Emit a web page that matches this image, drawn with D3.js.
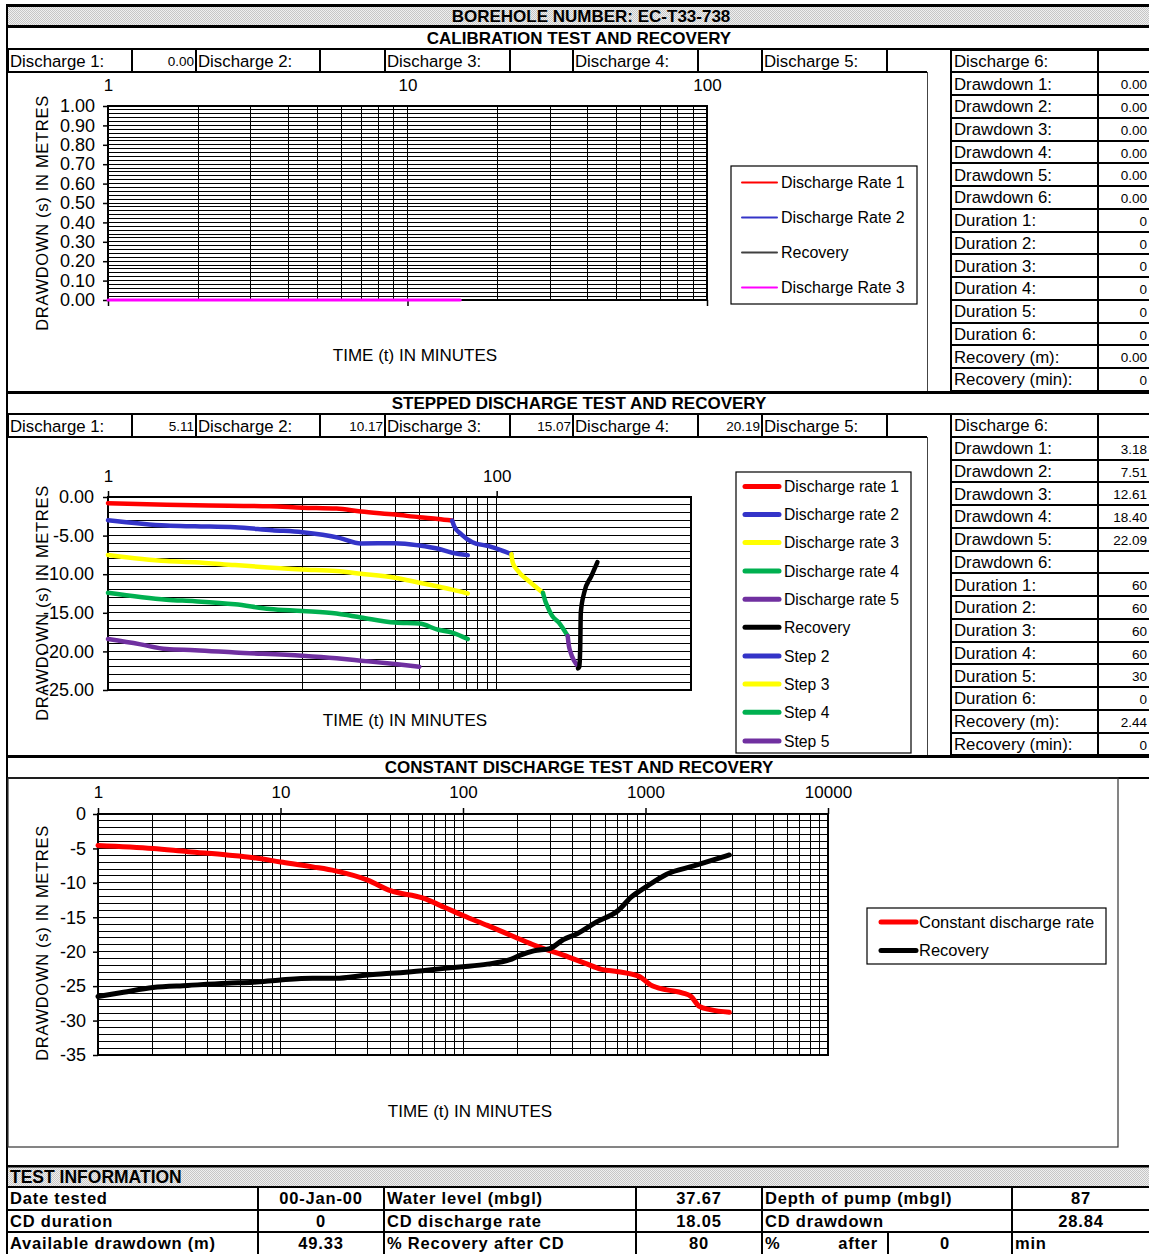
<!DOCTYPE html>
<html><head><meta charset="utf-8">
<script src="https://cdn.jsdelivr.net/npm/d3@7"></script>
<style>
html,body{margin:0;padding:0;background:#fff;}
svg{display:block;}
</style></head><body>
<svg id="c" width="1149" height="1254"></svg>
<script>
// ---------------- DATA ----------------
const boreholeTitle = "BOREHOLE NUMBER: EC-T33-738";
const sectionTitles = ["CALIBRATION TEST AND RECOVERY", "STEPPED DISCHARGE TEST AND RECOVERY", "CONSTANT DISCHARGE TEST AND RECOVERY"];
const dischargeLabels = ["Discharge 1:", "Discharge 2:", "Discharge 3:", "Discharge 4:", "Discharge 5:"];
const calibDischargeValues = ["0.00", "", "", "", ""];
const stepDischargeValues = ["5.11", "10.17", "15.07", "20.19", ""];
const sideLabels = ["Discharge 6:", "Drawdown 1:", "Drawdown 2:", "Drawdown 3:", "Drawdown 4:", "Drawdown 5:", "Drawdown 6:",
  "Duration 1:", "Duration 2:", "Duration 3:", "Duration 4:", "Duration 5:", "Duration 6:", "Recovery (m):", "Recovery (min):"];
const calibSideValues = ["", "0.00", "0.00", "0.00", "0.00", "0.00", "0.00", "0", "0", "0", "0", "0", "0", "0.00", "0"];
const stepSideValues = ["", "3.18", "7.51", "12.61", "18.40", "22.09", "", "60", "60", "60", "60", "30", "0", "2.44", "0"];

const axisXTitle = "TIME  (t) IN MINUTES";
const axisYTitle = "DRAWDOWN  (s) IN METRES";

// Calibration chart
const calibXLabels = [1, 10, 100];
const calibYTicks = [0, 0.1, 0.2, 0.3, 0.4, 0.5, 0.6, 0.7, 0.8, 0.9, 1.0];
const calibRate3Time = [1, 15];
const calibRate3Drawdown = [0, 0];
const calibLegend = ["Discharge Rate 1", "Discharge Rate 2", "Recovery", "Discharge Rate 3"];

// Stepped chart
const stepXLabels = [1, 100];
const stepYTicks = [0, -5, -10, -15, -20, -25];
const stepGridTimes = [10, 20, 30, 40, 50, 60, 70, 80, 90, 100];
const rate1Time = [1, 2, 2.8, 6.8, 10, 15, 20, 30, 40, 50, 59];
const rate1Draw = [-0.8, -1.0, -1.08, -1.2, -1.38, -1.5, -1.89, -2.28, -2.62, -2.84, -3.05];
const rate2Time = [1, 2, 2.8, 4.5, 7, 10, 15.5, 20, 30, 40, 50, 59, 71];
const rate2Draw = [-3.0, -3.7, -3.8, -3.92, -4.3, -4.56, -5.29, -6.02, -5.98, -6.28, -6.71, -7.23, -7.53];
const rate3Time = [1, 2, 2.8, 4.5, 10, 15, 20, 30, 40, 50, 59, 71];
const rate3Draw = [-7.5, -8.3, -8.44, -8.82, -9.38, -9.6, -9.94, -10.46, -11.1, -11.6, -12.0, -12.5];
const rate4Time = [1, 2, 2.8, 4.5, 6.8, 10, 15, 20, 30, 40, 50, 59, 71];
const rate4Draw = [-12.4, -13.3, -13.5, -13.9, -14.5, -14.76, -15.1, -15.6, -16.27, -16.4, -17.2, -17.56, -18.4];
const rate5Time = [1, 1.45, 2, 2.8, 4.5, 10, 15, 20, 30, 40];
const rate5Draw = [-18.4, -19.06, -19.7, -19.84, -20.14, -20.57, -20.9, -21.2, -21.64, -22.0];
const step2Time = [59, 60.5, 66, 75, 91, 105, 119];
const step2Draw = [-3.05, -3.8, -4.86, -5.85, -6.37, -6.88, -7.4];
const step3Time = [119, 121, 127, 150, 173];
const step3Draw = [-7.4, -8.5, -9.4, -11.1, -12.4];
const step4Time = [173, 178, 182, 193, 209, 232];
const step4Draw = [-12.4, -13.5, -14.1, -15.4, -16.27, -18.0];
const step5Time = [232, 235, 240, 262];
const step5Draw = [-18.0, -19.2, -20.1, -21.9];
const stepRecTime = [262, 266, 269, 271, 282, 307, 330];
const stepRecDraw = [-22.2, -22.0, -19.7, -15.0, -12.4, -10.24, -8.43];
const stepLegend = ["Discharge rate 1", "Discharge rate 2", "Discharge rate 3", "Discharge rate 4", "Discharge rate 5", "Recovery", "Step 2", "Step 3", "Step 4", "Step 5"];

// Constant discharge chart
const cdXLabels = [1, 10, 100, 1000, 10000];
const cdYTicks = [0, -5, -10, -15, -20, -25, -30, -35];
const cdTime = [1, 2, 3.1, 5.1, 7.1, 10, 15, 20, 30, 40, 60, 79, 100, 136, 192, 251, 355, 468, 574, 708, 927, 1064, 1307, 1604, 1778, 1972, 2261, 2880];
const cdDraw = [-4.56, -5.0, -5.47, -5.95, -6.34, -6.96, -7.68, -8.26, -9.6, -11.14, -12.19, -13.54, -14.74, -16.18, -17.86, -19.15, -20.5, -21.7, -22.56, -22.9, -23.62, -24.82, -25.54, -26.0, -26.5, -27.94, -28.42, -28.8];
const cdRecTime = [1, 1.38, 2, 3.1, 5.1, 7.1, 10, 15, 20, 30, 40, 60, 79, 100, 136, 179, 206, 244, 299, 355, 422, 537, 708, 840, 997, 1307, 1840, 2880];
const cdRecDraw = [-26.5, -25.88, -25.2, -24.9, -24.58, -24.43, -24.1, -23.86, -23.86, -23.38, -23.14, -22.75, -22.42, -22.18, -21.8, -21.2, -20.5, -19.87, -19.54, -18.24, -17.38, -15.7, -14.02, -12.0, -10.66, -8.74, -7.54, -5.95];
const cdLegend = ["Constant discharge rate", "Recovery"];

// Test information
const testInfoTitle = "TEST INFORMATION";
const testRow1 = ["Date tested", "00-Jan-00", "Water level (mbgl)", "37.67", "Depth of pump (mbgl)", "87"];
const testRow2 = ["CD duration", "0", "CD discharge rate", "18.05", "CD drawdown", "28.84"];
const testRow3 = ["Available drawdown (m)", "49.33", "% Recovery after CD", "80", "%", "after", "0", "min"];

// ---------------- DRAWING ----------------
const FONT = "'Liberation Sans', Arial, Helvetica, sans-serif";
const svg = d3.select("#c").attr("font-family", FONT);
svg.append("rect").attr("width", 1149).attr("height", 1254).attr("fill", "#fff");

const defs = svg.append("defs");
const pat = defs.append("pattern").attr("id", "dots").attr("width", 2).attr("height", 2).attr("patternUnits", "userSpaceOnUse");
pat.append("rect").attr("width", 2).attr("height", 2).attr("fill", "#efefef");
pat.append("rect").attr("width", 1).attr("height", 1).attr("fill", "#c6c6c6");
pat.append("rect").attr("x", 1).attr("y", 1).attr("width", 1).attr("height", 1).attr("fill", "#c6c6c6");

function L(x1, y1, x2, y2, w = 1, c = "#000") {
  svg.append("line").attr("x1", x1).attr("y1", y1).attr("x2", x2).attr("y2", y2)
    .attr("stroke", c).attr("stroke-width", w).attr("shape-rendering", "crispEdges");
}
function T(x, y, s, o = {}) {
  const t = svg.append("text").attr("x", x).attr("y", y).attr("dy", "0.36em")
    .attr("font-size", o.size || 16).attr("font-weight", o.weight || "normal")
    .attr("text-anchor", o.anchor || "start").attr("fill", o.fill || "#000").text(s);
  if (o.ls) t.attr("letter-spacing", o.ls);
  return t;
}

// Header band
svg.append("rect").attr("x", 8).attr("y", 7).attr("width", 1141).attr("height", 18).attr("fill", "url(#dots)");
T(591, 16, boreholeTitle, { size: 17, weight: "bold", anchor: "middle" });

// Frame lines
L(6, 5.5, 1149, 5.5, 3);
L(6, 26.5, 1149, 26.5, 3);
L(7, 4, 7, 1254, 2);

const colX = [8, 132, 196, 320, 385, 510, 573, 698, 762, 887, 951];
const sideX = [951, 1098, 1149];
const rowH = 22.75;

function dischargeRow(y0, values) {
  const y1 = y0 + 23;
  L(8, y0, 1149, y0, 1.5);
  L(8, y1, 927, y1, 1.5);
  for (let i = 0; i < colX.length; i++) L(colX[i], y0, colX[i], y1, 1.5);
  dischargeLabels.forEach((lab, i) => {
    T(colX[2 * i] + 2, y0 + 11.5, lab, { size: 16.8 });
    T(colX[2 * i + 2] - 2, y0 + 12.5, values[i], { size: 13.5, anchor: "end" });
  });
}
function sideTable(y0, values) {
  const n = sideLabels.length;
  for (let i = 0; i <= n; i++) L(sideX[0], y0 + i * rowH, 1149, y0 + i * rowH, 2);
  L(sideX[0], y0, sideX[0], y0 + n * rowH, 2);
  L(sideX[1], y0, sideX[1], y0 + n * rowH, 2);
  sideLabels.forEach((lab, i) => {
    T(sideX[0] + 3, y0 + i * rowH + rowH / 2, lab, { size: 16.8 });
    T(1147, y0 + i * rowH + rowH / 2 + 1, values[i], { size: 13.5, anchor: "end" });
  });
}

// Section 1: calibration
T(579, 38, sectionTitles[0], { size: 17, weight: "bold", anchor: "middle" });
dischargeRow(49, calibDischargeValues);
sideTable(49.5, calibSideValues);
L(927, 72, 927, 391, 1, "#444");
L(6, 392.5, 1149, 392.5, 3);

// Section 2: stepped
T(579, 403, sectionTitles[1], { size: 17, weight: "bold", anchor: "middle" });
dischargeRow(414, stepDischargeValues);
sideTable(414, stepSideValues);
L(927, 437, 927, 755, 1, "#444");
L(6, 756.5, 1149, 756.5, 3);

// Section 3: constant
T(579, 767, sectionTitles[2], { size: 17, weight: "bold", anchor: "middle" });
L(8, 778, 1149, 778, 1.5);
svg.append("rect").attr("x", 8).attr("y", 778).attr("width", 1110).attr("height", 369)
  .attr("fill", "none").attr("stroke", "#333").attr("stroke-width", 1.2);
L(6, 1166, 1149, 1166, 3);

// ---------- chart builder ----------
function chart(c) {
  const g = svg.append("g");
  const x = d3.scaleLog().domain(c.xDomain).range(c.xRange);
  const y = d3.scaleLinear().domain(c.yDomain).range(c.yRange);
  const [x0, x1] = c.xRange, [yb, yt] = c.yRange;
  // grid
  const grid = g.append("g").attr("shape-rendering", "crispEdges").attr("stroke", "#000").attr("stroke-width", 1);
  grid.selectAll(".gy").data(c.yGrid).join("line")
    .attr("x1", x0).attr("x2", x1).attr("y1", d => y(d)).attr("y2", d => y(d));
  grid.selectAll(".gx").data(c.xGrid).join("line")
    .attr("y1", yt).attr("y2", yb).attr("x1", d => x(d)).attr("x2", d => x(d));
  g.append("rect").attr("x", x0).attr("y", yt).attr("width", x1 - x0).attr("height", yb - yt)
    .attr("fill", "none").attr("stroke", "#000").attr("stroke-width", 1.5).attr("shape-rendering", "crispEdges");
  // x labels (top)
  const ax = g.append("g").attr("transform", `translate(0,${yt})`)
    .call(d3.axisTop(x).tickValues(c.xLabels).tickSize(0).tickPadding(c.xPad).tickFormat(d => String(d)));
  ax.select(".domain").remove();
  ax.selectAll("text").attr("font-size", 17).attr("font-family", FONT).attr("fill", "#000");
  // x tick marks
  const tk = g.append("g").attr("transform", `translate(0,${c.tickSide === "bottom" ? yb : yt})`)
    .call((c.tickSide === "bottom" ? d3.axisBottom(x) : d3.axisTop(x)).tickValues(c.xLabels).tickSize(6).tickFormat(""));
  tk.select(".domain").remove();
  tk.selectAll("line").attr("stroke-width", 1.5);
  // y axis
  const ay = g.append("g").attr("transform", `translate(${x0},0)`)
    .call(d3.axisLeft(y).tickValues(c.yTicks).tickSize(5).tickPadding(c.yPad).tickFormat(c.yFmt));
  ay.select(".domain").remove();
  ay.selectAll("line").attr("stroke-width", 1.5);
  ay.selectAll("text").attr("font-size", 18).attr("font-family", FONT).attr("fill", "#000");
  // titles
  g.append("text").attr("transform", `translate(${c.yTitle[0]},${c.yTitle[1]}) rotate(-90)`)
    .attr("text-anchor", "middle").attr("dy", "0.36em").attr("font-size", 16.5).attr("letter-spacing", 0.7)
    .text(axisYTitle);
  g.append("text").attr("x", c.xTitle[0]).attr("y", c.xTitle[1]).attr("dy", "0.36em")
    .attr("text-anchor", "middle").attr("font-size", 17).text(axisXTitle);
  // series
  const line = d3.line().x(d => x(d[0])).y(d => y(d[1])).curve(d3.curveMonotoneX);
  c.series.forEach(s => {
    const pts = s.t.map((t, i) => [t, s.v[i]]);
    g.append("path").attr("d", line(pts)).attr("fill", "none").attr("stroke", s.color)
      .attr("stroke-width", s.w).attr("stroke-linecap", "round").attr("stroke-linejoin", "round");
  });
  // legend
  const lg = c.legend;
  g.append("rect").attr("x", lg.box[0]).attr("y", lg.box[1]).attr("width", lg.box[2] - lg.box[0])
    .attr("height", lg.box[3] - lg.box[1]).attr("fill", "#fff").attr("stroke", "#000").attr("stroke-width", 1.2);
  lg.items.forEach((name, i) => {
    const yy = lg.ys[i];
    g.append("line").attr("x1", lg.lx[0]).attr("x2", lg.lx[1]).attr("y1", yy).attr("y2", yy)
      .attr("stroke", lg.colors[i]).attr("stroke-width", lg.w).attr("stroke-linecap", "round");
    g.append("text").attr("x", lg.tx).attr("y", yy).attr("dy", "0.36em").attr("font-size", lg.size).text(name);
  });
}

const BLUE = "#3434c8", GREEN = "#00b050", PURPLE = "#7030a0", YELLOW = "#ffff00", RED = "#ff0000";

// Calibration chart
chart({
  xDomain: [1, 100], xRange: [108, 707], yDomain: [0, 1], yRange: [300, 106],
  xGrid: d3.scaleLog().domain([1, 100]).ticks(), yGrid: d3.range(0, 51).map(i => i / 50),
  xLabels: calibXLabels, xPad: 15.5, tickSide: "bottom",
  yTicks: calibYTicks, yPad: 8, yFmt: d => d.toFixed(2),
  yTitle: [42, 213], xTitle: [415, 355],
  series: [{ t: calibRate3Time, v: calibRate3Drawdown, color: "#ff00ff", w: 3 }],
  legend: {
    box: [731, 166, 917, 304], items: calibLegend, ys: [182.5, 217.5, 252.5, 287.5],
    colors: [RED, BLUE, "#404040", "#ff00ff"], w: 2, lx: [742, 777], tx: 781, size: 16
  }
});

// Stepped chart
chart({
  xDomain: [1, 1000], xRange: [108, 691], yDomain: [-25, 0], yRange: [690, 497],
  xGrid: stepGridTimes, yGrid: d3.range(-25, 1),
  xLabels: stepXLabels, xPad: 15.5, tickSide: "top",
  yTicks: stepYTicks, yPad: 9, yFmt: d => d.toFixed(2),
  yTitle: [42, 603], xTitle: [405, 720],
  series: [
    { t: rate1Time, v: rate1Draw, color: RED, w: 4.5 },
    { t: rate2Time, v: rate2Draw, color: BLUE, w: 4.5 },
    { t: rate3Time, v: rate3Draw, color: YELLOW, w: 4.5 },
    { t: rate4Time, v: rate4Draw, color: GREEN, w: 4.5 },
    { t: rate5Time, v: rate5Draw, color: PURPLE, w: 4.5 },
    { t: step2Time, v: step2Draw, color: BLUE, w: 4.5 },
    { t: step3Time, v: step3Draw, color: YELLOW, w: 4.5 },
    { t: step4Time, v: step4Draw, color: GREEN, w: 4.5 },
    { t: step5Time, v: step5Draw, color: PURPLE, w: 4.5 },
    { t: stepRecTime, v: stepRecDraw, color: "#000", w: 4.5 }
  ],
  legend: {
    box: [736, 472, 911, 753], items: stepLegend,
    ys: [486.5, 514.5, 542.5, 571, 599.3, 627.3, 656, 684, 712.3, 741],
    colors: [RED, BLUE, YELLOW, GREEN, PURPLE, "#000", BLUE, YELLOW, GREEN, PURPLE], w: 5, lx: [745, 779], tx: 784, size: 15.7
  }
});

// Constant discharge chart
chart({
  xDomain: [1, 10000], xRange: [98, 828], yDomain: [-35, 0], yRange: [1055, 814],
  xGrid: d3.scaleLog().domain([1, 10000]).ticks(), yGrid: d3.range(-35, 1),
  xLabels: cdXLabels, xPad: 16.5, tickSide: "top",
  yTicks: cdYTicks, yPad: 7, yFmt: d => String(d),
  yTitle: [42, 943], xTitle: [470, 1111],
  series: [
    { t: cdTime, v: cdDraw, color: RED, w: 5 },
    { t: cdRecTime, v: cdRecDraw, color: "#000", w: 5 }
  ],
  legend: {
    box: [867, 908, 1106, 964], items: cdLegend, ys: [922, 950.5],
    colors: [RED, "#000"], w: 5, lx: [881, 916], tx: 919, size: 16.5
  }
});

// Test information table
svg.append("rect").attr("x", 8).attr("y", 1167.5).attr("width", 1141).attr("height", 19).attr("fill", "url(#dots)");
T(10, 1177, testInfoTitle, { size: 17.5, weight: "bold" });
const tRows = [1187, 1209.5, 1232, 1254.5];
tRows.forEach(y => L(8, y, 1149, y, 2));
const tCols = [258, 384, 636, 762, 1012];
tCols.forEach(x => L(x, 1187, x, 1254, 2));
L(888, 1232, 888, 1254, 2);
const tb = { size: 16.5, weight: "bold", ls: 0.8 };
[testRow1, testRow2].forEach((r, i) => {
  const yc = (tRows[i] + tRows[i + 1]) / 2;
  T(10, yc, r[0], tb);
  T(321, yc, r[1], Object.assign({ anchor: "middle" }, tb));
  T(387, yc, r[2], tb);
  T(699, yc, r[3], Object.assign({ anchor: "middle" }, tb));
  T(765, yc, r[4], tb);
  T(1081, yc, r[5], Object.assign({ anchor: "middle" }, tb));
});
{
  const yc = (tRows[2] + tRows[3]) / 2;
  const r = testRow3;
  T(10, yc, r[0], tb);
  T(321, yc, r[1], Object.assign({ anchor: "middle" }, tb));
  T(387, yc, r[2], tb);
  T(699, yc, r[3], Object.assign({ anchor: "middle" }, tb));
  T(765, yc, r[4], tb);
  T(878, yc, r[5], Object.assign({ anchor: "end" }, tb));
  T(945, yc, r[6], Object.assign({ anchor: "middle" }, tb));
  T(1015, yc, r[7], tb);
}
</script>
</body></html>
